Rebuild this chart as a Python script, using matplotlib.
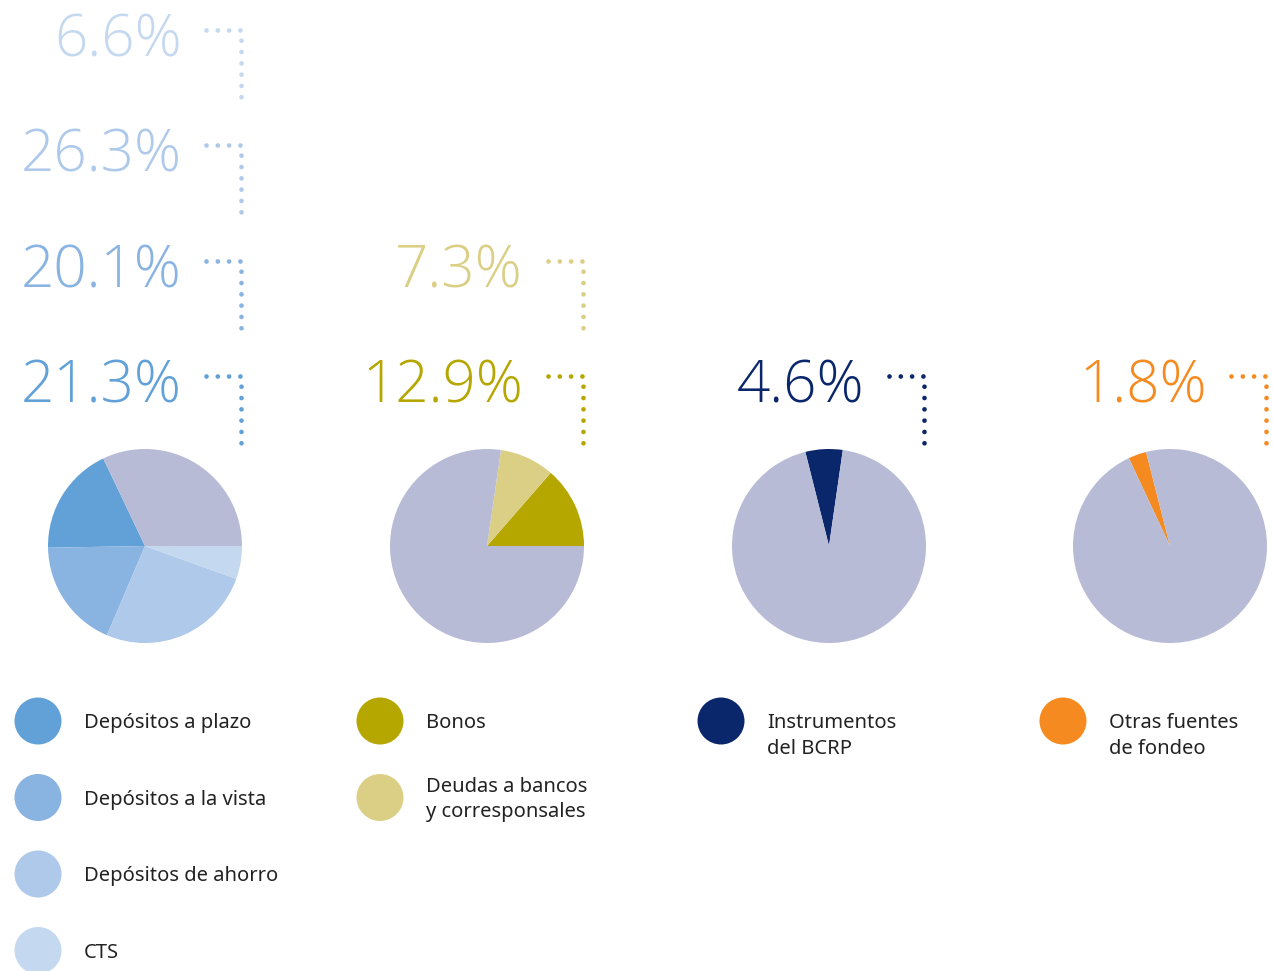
import matplotlib
matplotlib.use('Agg')
import matplotlib.pyplot as plt
from matplotlib.patches import Circle

# Slice values (percent of each pie), remainder drawn in grey
pie1_names = ['Depósitos a plazo', 'Depósitos a la vista', 'Depósitos de ahorro', 'CTS']
pie1_values = [18.2, 18.3, 25.9, 5.5]
pie1_labels = ['21.3%', '20.1%', '26.3%', '6.6%']
pie1_colors = ['#62a1d7', '#89b3e0', '#aec9e9', '#c4d8ef']

pie2_names = ['Bonos', 'Deudas a bancos\ny corresponsales']
pie2_values = [13.6, 9.1]
pie2_labels = ['12.9%', '7.3%']
pie2_colors = ['#b5a600', '#dbcf86']

pie3_names = ['Instrumentos\ndel BCRP']
pie3_values = [6.2]
pie3_labels = ['4.6%']
pie3_colors = ['#0b276b']

pie4_names = ['Otras fuentes\nde fondeo']
pie4_values = [3.0]
pie4_labels = ['1.8%']
pie4_colors = ['#f58a20']

grey = '#b7bbd6'
start_angles = [115.5, 0, 81.8, 104.3]

W, H = 1273, 971
fig = plt.figure(figsize=(W / 100, H / 100), dpi=100)
ax = fig.add_axes([0, 0, 1, 1])

pies = [
    (pie1_names, pie1_values, pie1_labels, pie1_colors),
    (pie2_names, pie2_values, pie2_labels, pie2_colors),
    (pie3_names, pie3_values, pie3_labels, pie3_colors),
    (pie4_names, pie4_values, pie4_labels, pie4_colors),
]

centers_x = [145, 487, 829, 1170]
pie_cy = H - 546
radius = 97
label_right = [182, 523, 864, 1207]
conn_x = [241, 583, 924, 1266]
label_y0 = 383      # pixel y of bottom label
label_step = 115.5
legend_circle_x = [38, 380, 721, 1063]

plt.rcParams['lines.scale_dashes'] = False

for i, (names, vals, labs, cols) in enumerate(pies):
    cx = centers_x[i]
    ax.pie(vals + [100 - sum(vals)], colors=cols + [grey], startangle=start_angles[i],
           counterclock=True, center=(cx, pie_cy), radius=radius,
           wedgeprops=dict(linewidth=0))

    # percentage labels with dotted connectors
    for j, (lab, col) in enumerate(zip(labs, cols)):
        py = label_y0 - j * label_step
        ax.text(label_right[i], H - (py + 4), lab, ha='right', va='center', fontsize=42,
                color=col, family='Open Sans', fontweight='light')
        top = py - 7
        xs = [conn_x[i] - 35, conn_x[i], conn_x[i]]
        ys = [H - top, H - top, H - (top + 67.5)]
        ax.plot(xs, ys, color=col, linewidth=3.4, linestyle=(0, (0.01, 8.13)),
                dash_capstyle='round', solid_capstyle='round')

    # legend
    for j, (nm, col) in enumerate(zip(names, cols)):
        ly = 721 + j * 76.5
        ax.add_patch(Circle((legend_circle_x[i], H - ly), 23.5, color=col, lw=0))
        lines = nm.split('\n')
        if len(lines) == 2 and i == 1:
            offs = [-13, 12]
        else:
            offs = [0, 26]
        for k, ln in enumerate(lines):
            ax.text(legend_circle_x[i] + 46, H - (ly + offs[k] + 2), ln, ha='left', va='center',
                    fontsize=14.5, color='#222222', family='Noto Sans')

ax.set_xlim(0, W)
ax.set_ylim(0, H)
ax.set_aspect('equal')
ax.axis('off')

fig.savefig('out.png', dpi=100)
